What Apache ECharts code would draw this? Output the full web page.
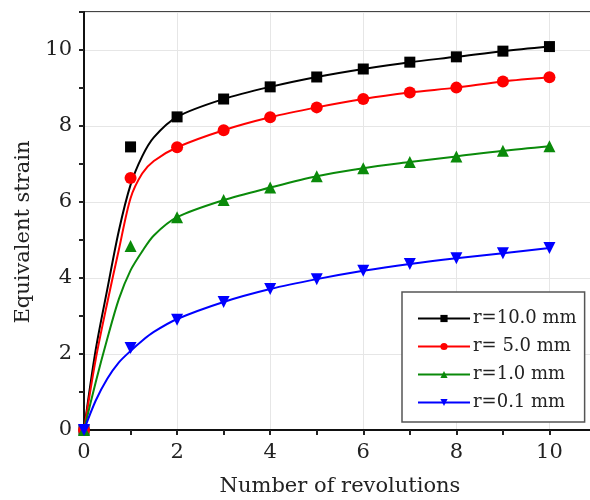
<!DOCTYPE html>
<html>
<head>
<meta charset="utf-8">
<script src="https://cdn.jsdelivr.net/npm/echarts@6/dist/echarts.min.js"></script>
<style>
  html, body { margin: 0; padding: 0; background: #fff; }
  #chart { width: 590px; height: 500px; }
</style>
</head>
<body>
<div id="chart"></div>
<script>
// measured points (markers)
const REV = [0, 1, 2, 3, 4, 5, 6, 7, 8, 9, 10]
const R10 = [0, 7.45, 8.24, 8.71, 9.03, 9.29, 9.5, 9.68, 9.82, 9.97, 10.09]
const R5 = [0, 6.63, 7.44, 7.89, 8.23, 8.49, 8.71, 8.88, 9.01, 9.17, 9.28]
const R1 = [0, 4.84, 5.6, 6.05, 6.38, 6.68, 6.89, 7.05, 7.2, 7.35, 7.47]
const R01 = [0, 2.16, 2.9, 3.37, 3.71, 3.97, 4.19, 4.37, 4.52, 4.65, 4.79]

// fitted curves
const FIT_X = [0, 0.25, 0.5, 0.75, 1, 1.25, 1.5, 2, 3, 4, 5, 6, 7, 8, 9, 10]
const FIT10 = [0, 2.1, 3.7, 5.25, 6.45, 7.2, 7.7, 8.24, 8.71, 9.03, 9.29, 9.5, 9.68, 9.82, 9.97, 10.09]
const FIT5 = [0, 1.85, 3.35, 4.75, 6.1, 6.75, 7.08, 7.44, 7.89, 8.23, 8.49, 8.71, 8.88, 9.01, 9.17, 9.28]
const FIT1 = [0, 1.25, 2.4, 3.45, 4.2, 4.7, 5.12, 5.6, 6.05, 6.38, 6.68, 6.89, 7.05, 7.2, 7.35, 7.47]
const FIT01 = [0, 0.77, 1.35, 1.78, 2.08, 2.35, 2.58, 2.92, 3.37, 3.71, 3.97, 4.19, 4.37, 4.52, 4.65, 4.79]

const NAMES = ['r=10.0 mm', 'r= 5.0 mm', 'r=1.0 mm', 'r=0.1 mm']
const COLORS = ['#000000', '#ff0000', '#0a8a0a', '#0000ff']
const SYMBOLS = ['rect', 'circle', 'triangle', 'triangle']
const ROTATE = [0, 0, 0, 180]
const SIZES = [11, 12, 12, 12]

const FONT = 'DejaVu Serif'
const pair = (xs, ys) => xs.map((x, i) => [x, ys[i]])

const fits = [FIT10, FIT5, FIT1, FIT01]
const marks = [R10, R5, R1, R01]

const series = []
fits.forEach((f, i) => {
  series.push({
    name: NAMES[i],
    type: 'line',
    xAxisIndex: 1,
    yAxisIndex: 1,
    data: pair(FIT_X, f),
    smooth: 0.3,
    showSymbol: false,
    symbol: SYMBOLS[i],
    symbolRotate: ROTATE[i],
    color: COLORS[i],
    lineStyle: { width: 2, color: COLORS[i] },
    z: 3,
  })
})
marks.forEach((m, i) => {
  series.push({
    name: 'pts' + i,
    type: 'scatter',
    xAxisIndex: 1,
    yAxisIndex: 1,
    data: pair(REV, m),
    symbol: SYMBOLS[i],
    symbolRotate: ROTATE[i],
    symbolSize: SIZES[i],
    itemStyle: { color: COLORS[i], opacity: 1 },
    z: 4,
  })
})

function tickAxis(pos) {
  return {
    type: 'value', min: 0, max: 11, interval: 1, position: pos,
    axisLine: { show: false },
    axisTick: { show: true, inside: false, length: 5, lineStyle: { color: '#222', width: 2 } },
    axisLabel: { show: false },
    splitLine: { show: false },
  }
}

const labelStyle = { fontFamily: FONT, fontSize: 21, color: '#222' }

const chart = echarts.init(document.getElementById('chart'))
chart.setOption({
  animation: false,
  backgroundColor: '#fff',
  grid: {
    left: 84, right: -6, top: 12, bottom: 70,
    outerBoundsMode: 'none',
    containLabel: false,
    show: true, borderColor: '#444', borderWidth: 2,
  },
  legend: {
    data: NAMES,
    orient: 'vertical',
    left: 402,
    top: 292,
    width: 180,
    padding: [17, 8, 10, 15],
    itemWidth: 52,
    itemHeight: 9,
    itemGap: 9,
    borderColor: '#555',
    borderWidth: 1.5,
    backgroundColor: '#fff',
    textStyle: { fontFamily: FONT, fontSize: 18, color: '#222', lineHeight: 19, padding: [0, 0, 0, -2] },
  },
  xAxis: [
    tickAxis('bottom'),
    {
      type: 'value', min: 0, max: 11, interval: 2, position: 'bottom',
      name: 'Number of revolutions',
      nameLocation: 'middle',
      nameGap: 46,
      nameTextStyle: labelStyle,
      axisLine: { show: true, onZero: false, lineStyle: { color: '#111', width: 2 } },
      axisTick: { show: false },
      axisLabel: Object.assign({ margin: 12, showMaxLabel: false }, labelStyle),
      splitLine: { show: true, lineStyle: { color: '#e6e6e6', width: 1 } },
    },
  ],
  yAxis: [
    tickAxis('left'),
    {
      type: 'value', min: 0, max: 11, interval: 2, position: 'left',
      name: 'Equivalent strain',
      nameLocation: 'middle',
      nameGap: 50,
      nameTextStyle: Object.assign({ padding: [0, 22, 0, 0] }, labelStyle),
      axisLine: { show: true, onZero: false, lineStyle: { color: '#111', width: 2 } },
      axisTick: { show: false },
      axisLabel: Object.assign({ margin: 12, showMaxLabel: false }, labelStyle),
      splitLine: { show: true, lineStyle: { color: '#e6e6e6', width: 1 } },
    },
  ],
  series: series,
})
</script>
</body>
</html>
